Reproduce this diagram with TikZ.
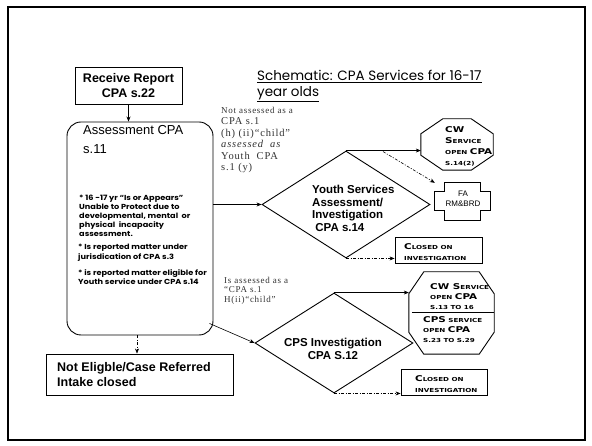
\documentclass[tikz,border=0pt]{standalone}
\usepackage{fontspec}
\setmainfont{Liberation Sans}
\newfontfamily\gothic{Poppins}
\newfontfamily\gothicw[FakeStretch=1.12]{Poppins}
\newfontfamily\serifl[LetterSpace=8]{Liberation Serif}
\newfontfamily\cpfont[FakeStretch=1.3]{DejaVu Sans}
\usetikzlibrary{arrows.meta,shapes.geometric,calc}
\newcommand\cpB{\fontsize{8}{11}\selectfont}
\begin{document}
\begin{tikzpicture}[x=1pt,y=-1pt,
  box/.style={draw, line width=0.9pt, inner sep=0pt},
  arr/.style={-{Stealth[length=5pt,width=4pt]}, line width=0.6pt},
  dd/.style={arr, dash pattern=on 3pt off 1.5pt on 1pt off 1.5pt},
  txt/.style={anchor=north west, inner sep=0pt, align=left},
  cptext/.style={txt, font=\cpfont\bfseries\fontsize{5.5}{11}\selectfont},
  lbl/.style={txt, text=black!80},
  oct/.style={line width=0.9pt}
]
\fill[white] (0,0) rectangle (592,446);
\path[use as bounding box] (0,0) rectangle (592,446);
\draw[line width=1.6pt] (8,7) rectangle (585,440);

% title
\node[txt, font=\gothic\fontsize{13.5}{16}\selectfont] (title) at (257,70)
  {\underline{Schematic: CPA Services for 16-17}\\\underline{year olds}};

% receive report
\node[box, minimum width=107pt, minimum height=37pt, align=center,
  font=\bfseries\fontsize{12.5}{15}\selectfont] (report) at (128.5,86) {Receive Report\\CPA s.22};

% assessment
\node[box, rounded corners=14pt, minimum width=146pt, minimum height=213pt] (assess) at (140,228.5) {};
\node[txt, font=\fontsize{13}{19}\selectfont] (assesst) at (83,125) {Assessment CPA\\s.11};
\node[txt, font=\gothicw\bfseries\fontsize{7.3}{9.2}\selectfont] (b1) at (79,194.5)
  {* 16 -17 yr “Is or Appears”\\Unable to Protect due to\\developmental, mental\ \ or\\physical\ \ incapacity\\assessment.};
\node[txt, font=\gothicw\bfseries\fontsize{7.3}{9.5}\selectfont] (b2) at (78,244)
  {* Is reported matter under\\jurisdication of CPA s.3};
\node[txt, font=\gothicw\bfseries\fontsize{7.3}{9.5}\selectfont] (b3) at (78,269)
  {* is reported matter eligible for\\Youth service under CPA s.14};

% not eligible
\node[box, minimum width=187pt, minimum height=41pt] (noteli) at (139.5,374.5) {};
\node[txt, font=\bfseries\fontsize{12.5}{15}\selectfont] (notelit) at (57,362.5)
  {Not Eligble/Case Referred\\Intake closed};

% labels
\node[lbl, font=\serifl\fontsize{10.5}{11.4}\selectfont] (l1) at (221,107)
  {{\fontsize{9}{11.4}\selectfont Not assessed as a}\\CPA s.1\\(h) (ii)“child”\\\textit{assessed\ \ as}\\Youth\ \ CPA\\s.1 (y)};
\node[lbl, font=\serifl\fontsize{9}{9.5}\selectfont] (l2) at (224,277)
  {Is assessed as a\\“CPA s.1\\H(ii)“child”};

% youth diamond
\node[diamond, draw, line width=0.9pt, minimum width=168pt, minimum height=107pt, inner sep=0pt] (youth) at (346,204.5) {};
\node[txt, font=\bfseries\fontsize{11.5}{12.5}\selectfont] (youtht) at (312,185)
  {Youth Services\\Assessment/\\Investigation\\\ CPA s.14};

% CW octagon top
\node[inner sep=0pt, minimum width=72pt, minimum height=51pt] (cw1) at (457,144.5) {};
\draw[oct] ($(cw1.north west)+(22,0)$) -- ($(cw1.north east)+(-22,0)$) -- ($(cw1.north east)+(0,15)$)
  -- ($(cw1.south east)+(0,-15)$) -- ($(cw1.south east)+(-22,0)$) -- ($(cw1.south west)+(22,0)$)
  -- ($(cw1.south west)+(0,-15)$) -- ($(cw1.north west)+(0,15)$) -- cycle;
\node[cptext] (cw1t) at (445,126) {{\cpB CW}\\{\cpB S}ERVICE\\OPEN {\cpB CPA}\\S.14(2)};

% FA box
\node[inner sep=0pt, minimum width=55pt, minimum height=37pt] (fa) at (462.5,201.5) {};
\draw[oct] ($(fa.north west)+(10,0)$) -- ($(fa.north east)+(-10,0)$) -- ($(fa.north east)+(-10,9)$)
  -- ($(fa.north east)+(0,9)$) -- ($(fa.south east)+(0,-10)$) -- ($(fa.south east)+(-10,-10)$)
  -- ($(fa.south east)+(-10,0)$) -- ($(fa.south west)+(10,0)$) -- ($(fa.south west)+(10,-10)$)
  -- ($(fa.south west)+(0,-10)$) -- ($(fa.north west)+(0,9)$) -- ($(fa.north west)+(10,9)$) -- cycle;
\node[inner sep=0pt, align=center, font=\fontsize{8}{10}\selectfont] (fat) at (463,198.5) {FA\\RM\&BRD};

% closed 1
\node[box, minimum width=87pt, minimum height=26pt] (closed1) at (438.5,250) {};
\node[cptext] (closed1t) at (404,243.5) {{\cpB C}LOSED ON\\INVESTIGATION};

% CPS diamond
\node[diamond, draw, line width=0.9pt, minimum width=158pt, minimum height=100pt, inner sep=0pt] (cps) at (334,343) {};
\node[inner sep=0pt, align=center, font=\bfseries\fontsize{11.5}{13}\selectfont] (cpst) at (333,349) {CPS Investigation\\CPA S.12};

% CW/CPS octagon
\node[inner sep=0pt, minimum width=85pt, minimum height=82pt] (cw2) at (451.5,313) {};
\draw[oct] ($(cw2.north west)+(15,0)$) -- ($(cw2.north east)+(-15,0)$) -- ($(cw2.north east)+(0,22)$)
  -- ($(cw2.south east)+(0,-22)$) -- ($(cw2.south east)+(-15,0)$) -- ($(cw2.south west)+(15,0)$)
  -- ($(cw2.south west)+(0,-22)$) -- ($(cw2.north west)+(0,22)$) -- cycle;
\draw[oct] ($(cw2.west)+(3,-1)$) -- ($(cw2.east)+(0,-1)$);
\node[cptext, font=\cpfont\bfseries\fontsize{5.5}{10}\selectfont] (cw2a) at (430,283) {{\cpB CW S}ERVICE\\OPEN {\cpB CPA}\\S.13 TO 16};
\node[cptext, font=\cpfont\bfseries\fontsize{5.5}{10}\selectfont] (cw2b) at (423,316) {{\cpB CPS} SERVICE\\OPEN {\cpB CPA}\\S.23 TO S.29};

% closed 2
\node[box, minimum width=86pt, minimum height=26pt] (closed2) at (444,382) {};
\node[cptext] (closed2t) at (415,375.5) {{\cpB C}LOSED ON\\INVESTIGATION};

% connectors
\draw[arr] (report.south) -- (report.south |- assess.north);
\draw[dd] ($(assess.south)+(-3,0)$) -- ($(noteli.north)+(-2.5,0)$);
\draw[arr] (assess.east |- youth.west) -- (youth.west);
\draw[arr] ($(assess.south east)+(-4,-12)$) -- (cps.west);
\draw[arr] (youth.north) -- (youth.north -| cw1.west);
\draw[dd] ($(youth.north)+(37,1)$) -- (fa.north west);
\draw[dd] (youth.south) -- (youth.south -| closed1.west);
\draw[arr] (cps.north) -- (cps.north -| cw2.west);
\draw[dd] (cps.south) -- (cps.south -| closed2.west);
\end{tikzpicture}
\end{document}
